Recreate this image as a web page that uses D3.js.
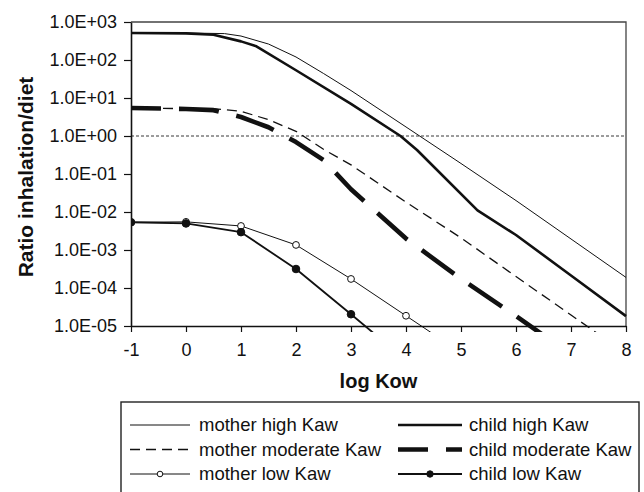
<!DOCTYPE html>
<html>
<head>
<meta charset="utf-8">
<script src="https://cdn.jsdelivr.net/npm/d3@7"></script>
<style>
  html, body { margin: 0; padding: 0; background: #fff; }
  svg { display: block; }
  text { font-family: Arial, "Liberation Sans", sans-serif; fill: #111; }
</style>
</head>
<body>
<svg id="chart" width="644" height="492"></svg>
<script>
// log Kow positions and inhalation/diet ratios for each exposure scenario
const motherHighX   = [-1, 0, 0.7, 1, 1.5, 2, 2.5, 3, 4, 5, 6, 7, 8];
const motherHighY   = [514, 514, 495, 427, 263, 120, 44.2, 15.7, 1.73, 0.189, 0.020, 1.95e-3, 1.9e-4];

const childHighX    = [-1, 0, 0.5, 1, 1.28, 2, 3, 3.9, 4.2, 5.3, 6, 7, 8];
const childHighY    = [514, 501, 463, 309, 229, 53.7, 7.0, 1.0, 0.428, 0.011, 2.48e-3, 2.14e-4, 1.82e-5];

const motherModX    = [-1, 0, 0.5, 1, 1.5, 2, 2.5, 3, 4, 5, 6, 7, 8];
const motherModY    = [5.46, 5.25, 5.25, 4.47, 2.69, 1.33, 0.447, 0.174, 0.0182, 2.09e-3, 2.0e-4, 1.95e-5, 1.9e-6];

const childModX     = [-1, 0, 0.5, 1, 1.5, 2, 2.5, 3, 4, 5, 6, 7];
const childModY     = [5.46, 5.13, 4.79, 3.16, 1.70, 0.692, 0.234, 0.0398, 2.0e-3, 1.74e-4, 1.82e-5, 1.78e-6];

const motherLowX    = [-1, 0, 1, 2, 3, 4, 5];
const motherLowY    = [5.37e-3, 5.5e-3, 4.29e-3, 1.36e-3, 1.73e-4, 1.86e-5, 2.0e-6];

const childLowX     = [-1, 0, 1, 2, 3, 4];
const childLowY     = [5.37e-3, 5.0e-3, 2.95e-3, 3.16e-4, 2.04e-5, 1.26e-6];

const seriesNames   = ["mother high Kaw", "mother moderate Kaw", "mother low Kaw",
                       "child high Kaw", "child moderate Kaw", "child low Kaw"];

const xTicks        = [-1, 0, 1, 2, 3, 4, 5, 6, 7, 8];
const xTickLabels   = ["-1", "0", "1", "2", "3", "4", "5", "6", "7", "8"];
const yTicks        = [1e-5, 1e-4, 1e-3, 1e-2, 1e-1, 1e0, 1e1, 1e2, 1e3];
const yTickLabels   = ["1.0E-05", "1.0E-04", "1.0E-03", "1.0E-02", "1.0E-01",
                       "1.0E+00", "1.0E+01", "1.0E+02", "1.0E+03"];
const referenceRatio = 1;

// layout
const plotLeft = 131, plotRight = 626, plotTop = 22, plotBottom = 326;

const svg = d3.select("#chart");

const x = d3.scaleLinear().domain([-1, 8]).range([plotLeft, plotRight]);
const y = d3.scaleLog().domain([1e-5, 1e3]).range([plotBottom, plotTop]);

const zip = (xs, ys) => xs.map((v, i) => ({ x: v, y: ys[i] }));

const styles = {
  "mother high Kaw":     { w: 1.0, dash: null,    marker: null },
  "child high Kaw":      { w: 2.6, dash: null,    marker: null },
  "mother moderate Kaw": { w: 1.3, dash: "10,6",  marker: null },
  "child moderate Kaw":  { w: 4.6, dash: "40,18", offset: 10, marker: null },
  "mother low Kaw":      { w: 1.0, dash: null,    marker: "open" },
  "child low Kaw":       { w: 1.8, dash: null,    marker: "filled" }
};

const series = [
  { name: "mother high Kaw",     pts: zip(motherHighX, motherHighY) },
  { name: "child high Kaw",      pts: zip(childHighX, childHighY) },
  { name: "mother moderate Kaw", pts: zip(motherModX, motherModY) },
  { name: "child moderate Kaw",  pts: zip(childModX, childModY) },
  { name: "mother low Kaw",      pts: zip(motherLowX, motherLowY) },
  { name: "child low Kaw",       pts: zip(childLowX, childLowY) }
];

// clip region: lines run a few pixels past the bottom axis before being cut
svg.append("defs").append("clipPath").attr("id", "plotClip")
  .append("rect").attr("x", plotLeft).attr("y", plotTop - 2)
  .attr("width", plotRight - plotLeft + 1).attr("height", plotBottom - plotTop + 8);

// frame (top and right edges)
svg.append("path")
  .attr("d", `M${plotLeft},${plotTop}H${plotRight}V${plotBottom}`)
  .attr("fill", "none").attr("stroke", "#444").attr("stroke-width", 1.3);

// reference line at ratio = 1
svg.append("line")
  .attr("x1", plotLeft).attr("x2", plotRight)
  .attr("y1", y(referenceRatio)).attr("y2", y(referenceRatio))
  .attr("stroke", "#222").attr("stroke-width", 0.9)
  .attr("stroke-dasharray", "3,2");

const line = d3.line().x(d => x(d.x)).y(d => y(d.y));

const plot = svg.append("g").attr("clip-path", "url(#plotClip)");

series.forEach(s => {
  const st = styles[s.name];
  plot.append("path")
    .datum(s.pts)
    .attr("d", line)
    .attr("fill", "none")
    .attr("stroke", "#111")
    .attr("stroke-width", st.w)
    .attr("stroke-linejoin", "round")
    .attr("stroke-dasharray", st.dash)
    .attr("stroke-dashoffset", st.offset || 0);
  if (st.marker) {
    plot.selectAll(null)
      .data(s.pts.filter(d => d.y >= 1e-5))
      .enter().append("circle")
      .attr("cx", d => x(d.x)).attr("cy", d => y(d.y))
      .attr("r", st.marker === "filled" ? 3.8 : 3.4)
      .attr("fill", st.marker === "filled" ? "#111" : "#fff")
      .attr("stroke", "#111").attr("stroke-width", 1);
  }
});

// axes
const yAxis = svg.append("g")
  .attr("transform", `translate(${plotLeft},0)`)
  .call(d3.axisLeft(y).tickValues(yTicks)
    .tickFormat((d, i) => yTickLabels[i]).tickSize(7).tickPadding(7).tickSizeOuter(0));
yAxis.selectAll("text").style("font-size", "18px").attr("fill", "#111");

const xAxis = svg.append("g")
  .attr("transform", `translate(0,${plotBottom})`)
  .call(d3.axisBottom(x).tickValues(xTicks).tickFormat((d, i) => xTickLabels[i])
    .tickSize(6).tickPadding(11).tickSizeOuter(0));
xAxis.selectAll("text").style("font-size", "18px").attr("fill", "#111");

[yAxis, xAxis].forEach(a => {
  a.select(".domain").attr("stroke", "#111").attr("stroke-width", 1.6);
  a.selectAll(".tick line").attr("stroke", "#111").attr("stroke-width", 1.2);
});

// axis titles
svg.append("text")
  .attr("x", (plotLeft + plotRight) / 2).attr("y", 388)
  .attr("text-anchor", "middle")
  .style("font-size", "20px").style("font-weight", "bold")
  .text("log Kow");

svg.append("text")
  .attr("transform", "translate(33,177) rotate(-90)")
  .attr("text-anchor", "middle")
  .style("font-size", "21px").style("font-weight", "bold")
  .text("Ratio inhalation/diet");

// legend
const legend = svg.append("g");
legend.append("rect")
  .attr("x", 121).attr("y", 402).attr("width", 518).attr("height", 95)
  .attr("fill", "#fff").attr("stroke", "#222").attr("stroke-width", 1.4);

const rowY = [425, 449.5, 474];
const cols = [{ x0: 130, x1: 190, tx: 199 }, { x0: 398, x1: 462, tx: 469 }];

seriesNames.forEach((name, i) => {
  const col = cols[Math.floor(i / 3)];
  const ry = rowY[i % 3];
  const st = styles[name];
  legend.append("line")
    .attr("x1", col.x0).attr("x2", col.x1).attr("y1", ry).attr("y2", ry)
    .attr("stroke", "#111").attr("stroke-width", st.w)
    .attr("stroke-dasharray", st.dash)
    .attr("stroke-dashoffset", st.offset || 0);
  if (st.marker) {
    legend.append("circle")
      .attr("cx", (col.x0 + col.x1) / 2).attr("cy", ry)
      .attr("r", st.marker === "filled" ? 3.2 : 2.8)
      .attr("fill", st.marker === "filled" ? "#111" : "#fff")
      .attr("stroke", "#111").attr("stroke-width", 1);
  }
  legend.append("text")
    .attr("x", col.tx).attr("y", ry + 6)
    .style("font-size", "18.5px")
    .text(name);
});
</script>
</body>
</html>
